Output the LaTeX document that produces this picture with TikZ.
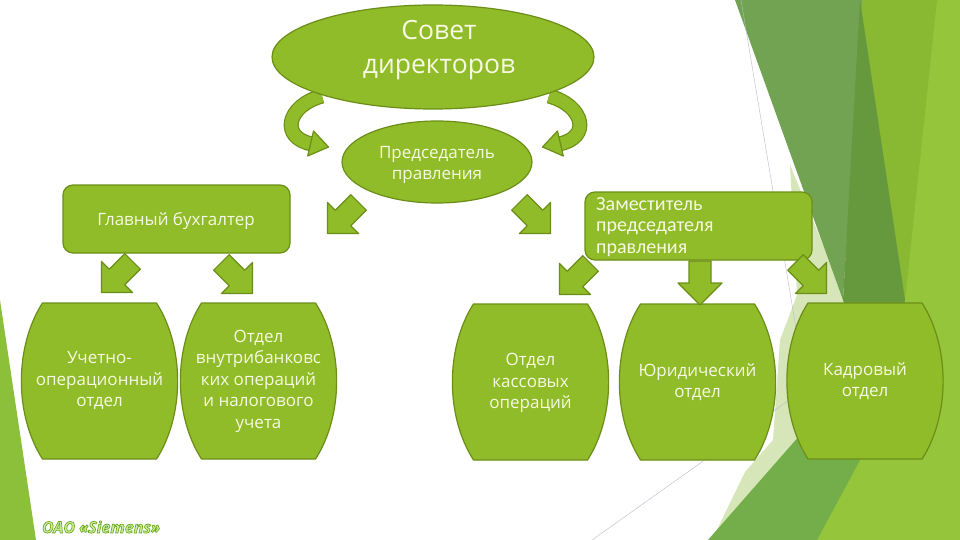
\documentclass[tikz,border=0pt]{standalone}
\usepackage{fontspec}
\setmainfont{Open Sans}
\newfontfamily\zamfont{Carlito}
\definecolor{boxfill}{RGB}{143,188,40}
\definecolor{boxline}{RGB}{108,142,24}
\definecolor{txt}{RGB}{247,249,226}
\definecolor{cLight}{RGB}{148,197,58}
\definecolor{cYel}{RGB}{137,184,50}
\definecolor{cPale}{RGB}{214,230,184}
\definecolor{cDarkA}{RGB}{114,163,83}
\definecolor{cDarkB}{RGB}{102,152,62}
\definecolor{cMed}{RGB}{115,174,75}
\definecolor{cStrip}{RGB}{141,192,58}
\definecolor{cThin}{RGB}{185,185,205}
\definecolor{logo}{RGB}{210,236,160}
\begin{document}
\begin{tikzpicture}[x=1pt,y=-1pt,
  shp/.style={fill=boxfill,draw=boxline,line width=1.2pt,line join=round},
  lbl/.style={text=txt,align=center,inner sep=0pt,font=\fontsize{17}{21.5}\selectfont},
  barrel/.pic={\path[shp] (-57,-78) -- (57,-78) arc[start angle=-43.2,end angle=43.2,x radius=78,y radius=114] -- (-57,78) arc[start angle=136.8,end angle=223.2,x radius=78,y radius=114] -- cycle;},
  blockarrow/.pic={\path[shp] (-11,-22) -- (11,-22) -- (11,0) -- (22,0) -- (0,22) -- (-22,0) -- (-11,0) -- cycle;}
]
\useasboundingbox (0,0) rectangle (960,540);
\fill[white] (0,0) rectangle (960,540);
% background facets
\fill[cLight] (860,0) -- (960,0) -- (960,540) -- (815,540) -- (870,420) -- cycle;
\fill[cYel] (860,0) -- (937,0) -- (905,300) -- (893,330) -- cycle;
\fill[cPale] (790,165) -- (846,300) -- (810,430) -- (712,540) -- (745,472) -- (773,440) -- (780,340) -- (797,295) -- cycle;
\fill[cDarkA] (735,0) -- (862,0) -- (843,300) -- cycle;
\fill[cDarkB] (860,0) -- (905,300) -- (880,420) -- (843,300) -- cycle;
\fill[cMed] (708,540) -- (850,378) -- (895,395) -- (817,540) -- cycle;
\draw[cThin,line width=0.4pt] (741,0) -- (806,388) -- (585,545);
\fill[cStrip] (0,300) -- (36,540) -- (0,540) -- cycle;
% curved arrows
\draw[boxline,line width=15pt] (322,96) .. controls (286,106) and (280,138) .. (312,144);
\draw[boxfill,line width=12.6pt] (322,96) .. controls (286,106) and (280,138) .. (312,144);
\path[shp] (307.7,156) -- (328.5,147) -- (313.5,131) -- cycle;
\draw[boxline,line width=15pt] (549,96) .. controls (585,106) and (591,138) .. (559,144);
\draw[boxfill,line width=12.6pt] (549,96) .. controls (585,106) and (591,138) .. (559,144);
\path[shp] (563.3,156) -- (542.5,147) -- (557.5,131) -- cycle;
% ellipses
\path[shp] (433,57) ellipse[x radius=161,y radius=52];
\path[shp] (437,162) ellipse[x radius=95,y radius=41];
% rounded boxes
\path[shp,rounded corners=10pt] (63,185) rectangle (290,253);
\path[shp,rounded corners=10pt] (585,192) rectangle (812,260);
% barrels
\pic at (99.5,381) {barrel};
\pic at (258.5,381) {barrel};
\pic at (530.5,382) {barrel};
\pic at (697.5,382) {barrel};
\pic at (865,381) {barrel};
% block arrows
\pic[rotate=-45] at (343,218) {blockarrow};
\pic[rotate=45] at (535,218) {blockarrow};
\pic[rotate=-45] at (117,277) {blockarrow};
\pic[rotate=45] at (237,278) {blockarrow};
\pic[rotate=-45] at (575,279) {blockarrow};
\pic at (700,283) {blockarrow};
\pic[rotate=45] at (811,278) {blockarrow};
% texts
\node[lbl,font=\fontsize{26.5}{34}\selectfont] (sovet) at (439,50) {Совет\\директоров};
\node[lbl] (pred) at (437,165) {Председатель\\правления};
\node[lbl] (glav) at (176,221) {Главный бухгалтер};
\node[lbl,align=left,anchor=west,font=\zamfont\fontsize{20}{21.5}\selectfont] (zam) at (596,227) {Заместитель\\председателя\\правления};
\node[lbl] (uchet) at (99.5,381) {Учетно-\\операционный\\отдел};
\node[lbl] (vnutr) at (258.5,381) {Отдел\\внутрибанковс\\ких операций\\и налогового\\учета};
\node[lbl] (kass) at (530.5,383) {Отдел\\кассовых\\операций};
\node[lbl] (jur) at (697.5,382) {Юридический\\отдел};
\node[lbl] (kadr) at (865,381) {Кадровый\\отдел};
\node[inner sep=0pt,text=logo,font=\fontsize{16}{18}\selectfont\bfseries\itshape] (oao) at (101,527) {\special{pdf:code q 0.42 0.68 0.12 RG 0.7 w 2 Tr}ОАО «Siemens»\special{pdf:code Q}};
\end{tikzpicture}
\end{document}
